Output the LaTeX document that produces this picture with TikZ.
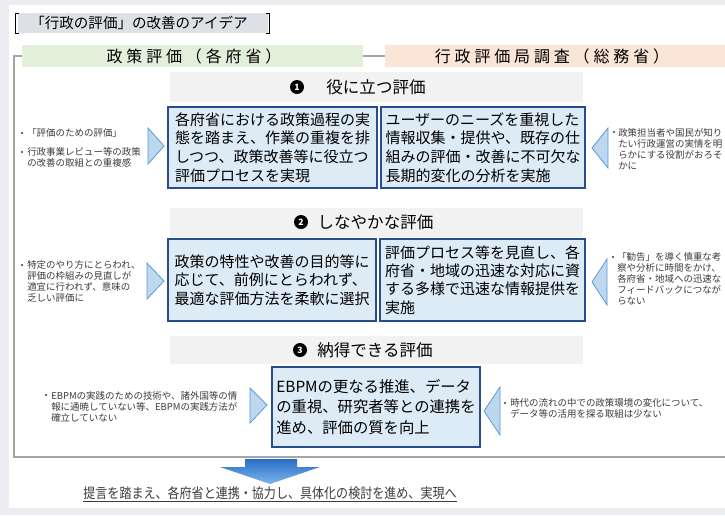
\documentclass[tikz,border=0pt]{standalone}
\usepackage{fontspec}
\setmainfont{Noto Sans CJK JP}
\newfontfamily\jpwide[LetterSpace=24]{Noto Sans CJK JP}
\newfontfamily\jpnarrow[FakeStretch=0.86]{Noto Sans CJK JP}
\definecolor{pagebg}{RGB}{236,237,241}
\definecolor{titlegray}{RGB}{221,224,228}
\definecolor{greenhd}{RGB}{226,239,218}
\definecolor{orangehd}{RGB}{251,229,214}
\definecolor{bandgray}{RGB}{242,242,242}
\definecolor{boxfill}{RGB}{221,235,247}
\definecolor{boxedge}{RGB}{40,76,140}
\definecolor{trifill}{RGB}{189,215,238}
\definecolor{triedge}{RGB}{91,155,213}
\definecolor{sidetext}{RGB}{60,60,60}
\definecolor{framegray}{RGB}{165,165,165}
\definecolor{arrowtop}{RGB}{40,108,196}
\definecolor{arrowbot}{RGB}{125,182,236}
\begin{document}
\begin{tikzpicture}[x=0.75pt,y=-0.75pt,
  mainbox/.style={draw=boxedge, fill=boxfill, line width=1.8pt, align=left, inner sep=0pt},
  boxfontA/.style={font=\fontsize{11.25}{14}\selectfont},
  boxfontB/.style={font=\fontsize{11.25}{13.75}\selectfont},
  boxfontC/.style={font=\fontsize{11.5}{15.5}\selectfont},
  sidetx/.style={anchor=west, align=left, inner sep=0pt, text=sidetext, font=\fontsize{7.1}{8.25}\selectfont},
  bul/.style={circle, fill=sidetext, inner sep=0pt, minimum size=1.8pt},
  tri/.style={fill=trifill, draw=triedge, line width=0.6pt, line join=miter},
  band/.style={fill=bandgray},
  numcirc/.style={circle, fill=black, inner sep=0pt, minimum size=10.5pt, text=white, font=\fontsize{6.5}{6.5}\selectfont\bfseries},
  hdtext/.style={inner sep=0pt, font=\fontsize{12.4}{12.4}\selectfont},
  coltext/.style={inner sep=0pt, text=black, font=\jpwide\fontsize{12}{12}\selectfont}
]
\useasboundingbox (0,0) rectangle (725,515);
\fill[pagebg] (0,0) rectangle (725,515);
\fill[white] (9,5) rectangle (725,508);

% title
\fill[titlegray] (18,13) rectangle (268,33);
\draw[line width=0.6pt] (18.5,13.5) -- (15,13.5) -- (15,33) -- (18.5,33);
\draw[line width=0.6pt] (265.5,13.5) -- (269,13.5) -- (269,33) -- (265.5,33);
\node[inner sep=0pt, font=\fontsize{10.9}{10.9}\selectfont] (title) at (139,23) {「行政の評価」の改善のアイデア};

% outer frame
\draw[framegray, line width=0.8pt] (725,56) -- (14,56) -- (14,457) -- (725,457);

% column headers
\fill[greenhd] (22,45) rectangle (363,67);
\fill[orangehd] (385,45) rectangle (725,67);
\node[coltext] (colL) at (194,56) {政策評価（各府省）};
\node[coltext] (colR) at (552,56) {行政評価局調査（総務省）};

% section 1
\fill[band] (170,72) rectangle (583,102);
\node[numcirc] (n1) at (297,87) {1};
\node[hdtext] (h1) at (376,87) {役に立つ評価};
\node[mainbox, boxfontA, minimum width=156.75pt, minimum height=60.75pt] (b1L) at (272.5,147.5)
  {各府省における政策過程の実\\態を踏まえ、作業の重複を排\\しつつ、政策改善等に役立つ\\評価プロセスを実現};
\node[mainbox, boxfontA, minimum width=153pt, minimum height=60.75pt] (b1R) at (483,147.5)
  {ユーザーのニーズを重視した\\情報収集・提供や、既存の仕\\組みの評価・改善に不可欠な\\長期的変化の分析を実施};
\draw[tri] (148,128) -- (164,146) -- (148,164) -- cycle;
\draw[tri] (608,128) -- (592,148) -- (608,168) -- cycle;
\node[bul] (s1a) at (22,133) {};
\node[sidetx] (t1a) at (27,133) {「評価のための評価」};
\node[bul] (s1b) at (22,152) {};
\node[sidetx] (t1b) at (27,157.5) {行政事業レビュー等の政策\\の改善の取組との重複感};
\node[bul] (s1c) at (614,132) {};
\node[sidetx] (t1c) at (618,149) {政策担当者や国民が知り\\たい行政運営の実情を明\\らかにする役割がおろそ\\かに};

% section 2
\fill[band] (170,208) rectangle (583,237);
\node[numcirc] (n2) at (301,222) {2};
\node[hdtext] (h2) at (375.5,222) {しなやかな評価};
\node[mainbox, boxfontB, minimum width=156pt, minimum height=61.5pt] (b2L) at (272,280)
  {政策の特性や改善の目的等に\\応じて、前例にとらわれず、\\最適な評価方法を柔軟に選択};
\node[mainbox, boxfontB, minimum width=153.75pt, minimum height=61.5pt] (b2R) at (482.5,280)
  {評価プロセス等を見直し、各\\府省・地域の迅速な対応に資\\する多様で迅速な情報提供を\\実施};
\draw[tri] (147,263) -- (164,281) -- (147,299) -- cycle;
\draw[tri] (607,259) -- (592,282) -- (607,305) -- cycle;
\node[bul] (s2a) at (22,265) {};
\node[sidetx] (t2a) at (27,281) {特定のやり方にとらわれ、\\評価の枠組みの見直しが\\適宜に行われず、意味の\\乏しい評価に};
\node[bul] (s2b) at (613,257) {};
\node[sidetx] (t2b) at (617,278.5) {「勧告」を導く慎重な考\\察や分析に時間をかけ、\\各府省・地域への迅速な\\フィードバックにつなが\\らない};

% section 3
\fill[band] (170,336) rectangle (583,364);
\node[numcirc] (n3) at (300,350) {3};
\node[hdtext] (h3) at (375,350) {納得できる評価};
\node[mainbox, boxfontC, minimum width=156pt, minimum height=60pt] (b3) at (376,407)
  {EBPMの更なる推進、データ\\の重視、研究者等との連携を\\進め、評価の質を向上};
\draw[tri] (250,388) -- (267,405) -- (250,423) -- cycle;
\draw[tri] (500,387) -- (484,411) -- (500,435) -- cycle;
\node[bul] (s3a) at (46,395) {};
\node[sidetx] (t3a) at (51,406.5) {EBPMの実践のための技術や、諸外国等の情\\報に通暁していない等、EBPMの実践方法が\\確立していない};
\node[bul] (s3b) at (505,403) {};
\node[sidetx] (t3b) at (510,408) {時代の流れの中での政策環境の変化について、\\データ等の活用を探る取組は少ない};

% bottom arrow
\shade[top color=arrowtop, bottom color=arrowbot]
  (245,459) -- (297,459) -- (297,467) -- (320,467) -- (270,484) -- (220,467) -- (245,467) -- cycle;
\node[inner sep=0pt, text=sidetext, font=\jpnarrow\fontsize{10.5}{10.5}\selectfont] (concl) at (270,494)
  {\underline{提言を踏まえ、各府省と連携・協力し、具体化の検討を進め、実現へ}};
\end{tikzpicture}
\end{document}
